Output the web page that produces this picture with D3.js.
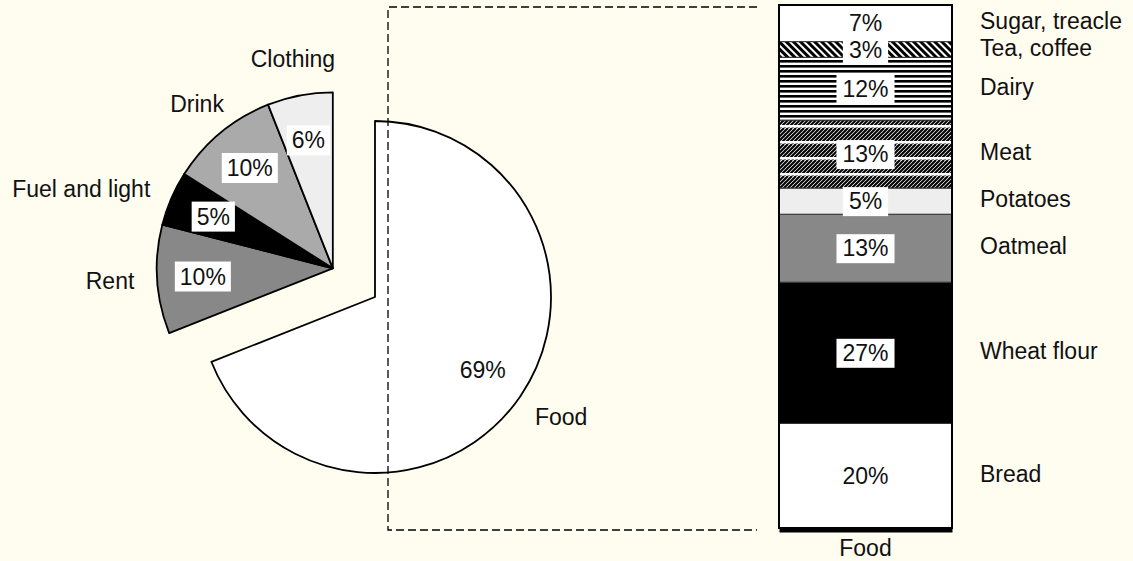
<!DOCTYPE html>
<html><head><meta charset="utf-8">
<script src="https://cdn.jsdelivr.net/npm/d3@7"></script>
<style>
html,body{margin:0;padding:0;background:#fffcf0;}
text{font-family:"Liberation Sans",Arial,Helvetica,sans-serif;font-size:23px;fill:#111;}
</style></head><body>
<svg id="chart" width="1133" height="561"></svg>
<script>
// ---- data ----
const pieCategories = ["Food", "Rent", "Fuel and light", "Drink", "Clothing"];
const pieValues     = [69, 10, 5, 10, 6];
const pieFills      = ["#ffffff", "#888888", "#000000", "#aaaaaa", "#eeeeee"];

const foodCategories = ["Bread", "Wheat flour", "Oatmeal", "Potatoes", "Meat", "Dairy", "Tea, coffee", "Sugar, treacle"];
const foodValues     = [20, 27, 13, 5, 13, 12, 3, 7];
const foodFills      = ["#ffffff", "#000000", "#888888", "#eeeeee", "url(#meat)", "url(#dairy)", "url(#tea)", "#ffffff"];
const barCategory    = ["Food"];

// ---- layout ----
const svg = d3.select("#chart");
const cx = 375, cy = 297, R = 176, explode = 51;

// patterns
const defs = svg.append("defs");
const tea = defs.append("pattern").attr("id","tea").attr("patternUnits","userSpaceOnUse")
  .attr("width",5).attr("height",5).attr("patternTransform","rotate(-45)");
tea.append("rect").attr("width",5).attr("height",5).attr("fill","#fff");
tea.append("rect").attr("width",3).attr("height",5).attr("fill","#000");

const dairy = defs.append("pattern").attr("id","dairy").attr("patternUnits","userSpaceOnUse")
  .attr("width",10).attr("height",5);
dairy.append("rect").attr("width",10).attr("height",5).attr("fill","#fff");
dairy.append("rect").attr("y",0).attr("width",10).attr("height",2.6).attr("fill","#000");

const meat = defs.append("pattern").attr("id","meat").attr("patternUnits","userSpaceOnUse")
  .attr("width",16).attr("height",16);
meat.append("rect").attr("width",16).attr("height",16).attr("fill","#fff");
for (let k = -16; k <= 16; k += 4) {
  meat.append("line").attr("x1",k).attr("y1",16).attr("x2",k+16).attr("y2",0)
    .attr("stroke","#000").attr("stroke-width",2.1);
}
meat.append("rect").attr("y",13).attr("width",16).attr("height",2.5).attr("fill","#fff");

// ---- pie ----
const pie = d3.pie().sort(null).value(d => d.v).startAngle(0).endAngle(2*Math.PI);
const arcs = pie(pieCategories.map((c,i) => ({c, v: pieValues[i], fill: pieFills[i]})));
const arc = d3.arc().innerRadius(0).outerRadius(R);

const restStart = arcs[0].endAngle, restMid = (restStart + 2*Math.PI)/2;
const offX = Math.sin(restMid)*explode, offY = -Math.cos(restMid)*explode;

const gFood = svg.append("g").attr("transform",`translate(${cx},${cy})`);
const gRest = svg.append("g").attr("transform",`translate(${cx+offX},${cy+offY})`);

function groupFor(i){ return i === 0 ? gFood : gRest; }

arcs.forEach((a,i) => {
  groupFor(i).append("path").attr("d", arc(a)).attr("fill", a.data.fill)
    .attr("stroke","#000").attr("stroke-width",1.8).attr("stroke-linejoin","round");
});

// value labels
const inner = d3.arc().innerRadius(R*0.74).outerRadius(R*0.74);
arcs.forEach((a,i) => {
  const [x,y] = inner.centroid(a);
  const g = groupFor(i).append("g").attr("transform",`translate(${x},${y})`);
  const t = g.append("text").attr("text-anchor","middle").attr("dy","0.35em").text(a.data.v + "%");
  const bb = t.node().getBBox();
  g.insert("rect","text").attr("x",bb.x-5).attr("y",-15).attr("width",bb.width+10).attr("height",30).attr("fill","#fff");
});

// category labels
arcs.forEach((a,i) => {
  const mid = (a.startAngle + a.endAngle)/2;
  const s = Math.sin(mid), c = Math.cos(mid);
  const side = Math.abs(s) > 0.85;
  const r = side ? R*1.13 : R*1.21;
  groupFor(i).append("text")
    .attr("x", s*r + (i === 0 ? 10 : 0)).attr("y", -c*r).attr("dy","0.35em")
    .attr("text-anchor", side ? (s < 0 ? "end" : "start") : "middle")
    .text(a.data.c);
});

// ---- stacked bar ----
const x = d3.scaleBand().domain(barCategory).range([779, 952]);
const y = d3.scaleLinear().domain([0, 100]).range([528, 5]);

let cum = 0;
const segs = foodCategories.map((c,i) => { const s = {c, v: foodValues[i], fill: foodFills[i], y0: cum, y1: cum + foodValues[i]}; cum += foodValues[i]; return s; });

const gBar = svg.append("g");
gBar.selectAll("rect.seg").data(segs).join("rect").attr("class","seg")
  .attr("x", x("Food")).attr("width", x.bandwidth())
  .attr("y", d => y(d.y1)).attr("height", d => y(d.y0) - y(d.y1))
  .attr("fill", d => d.fill).attr("stroke","#333").attr("stroke-width",1);

gBar.append("rect").attr("x", x("Food")).attr("width", x.bandwidth())
  .attr("y", y(100)).attr("height", y(0)-y(100))
  .attr("fill","none").attr("stroke","#000").attr("stroke-width",2);

// value labels in bar
segs.forEach(d => {
  const g = gBar.append("g").attr("transform",`translate(${x("Food")+x.bandwidth()/2},${y((d.y0+d.y1)/2)})`);
  const t = g.append("text").attr("text-anchor","middle").attr("dy","0.35em").text(d.v + "%");
  const bb = t.node().getBBox();
  g.insert("rect","text").attr("x",bb.x-6).attr("y",-14).attr("width",bb.width+12).attr("height",29).attr("fill","#fff");
});

// right labels
gBar.selectAll("text.cat").data(segs).join("text").attr("class","cat")
  .attr("x", x("Food") + x.bandwidth() + 28)
  .attr("y", d => y((d.y0+d.y1)/2) - 2).attr("dy","0.35em")
  .text(d => d.c);

// bottom axis
const axis = svg.append("g").attr("transform",`translate(0,${y(0)+2})`)
  .call(d3.axisBottom(x).tickSize(0).tickPadding(10));
axis.select(".domain").attr("stroke","#000").attr("stroke-width",4);
axis.selectAll("text").style("font-size","23px").style("font-family","'Liberation Sans',Arial,sans-serif").attr("fill","#111");

// dashed connector
const bx0 = 388, bx1 = x("Food") - 22;
svg.append("path")
  .attr("d", `M${bx1},${y(100)+2}H${bx0}V${y(0)+2}H${bx1}`)
  .attr("fill","none").attr("stroke","#000").attr("stroke-width",1.3).attr("stroke-dasharray","8,4");
</script>
</body></html>
